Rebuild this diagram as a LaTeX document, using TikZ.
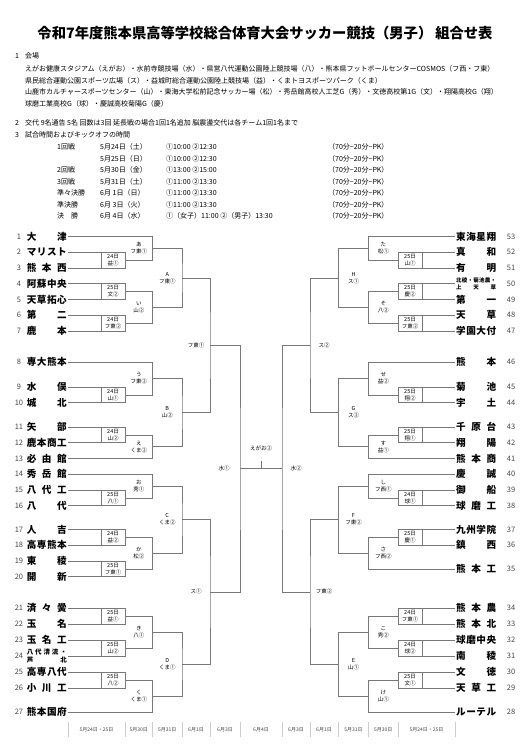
\documentclass[tikz,border=0pt]{standalone}
\usepackage{fontspec}
\setmainfont{Noto Sans CJK JP}
\usepackage{xcolor}
\definecolor{linegray}{RGB}{120,120,120}
\definecolor{sepgray}{RGB}{205,205,205}
\definecolor{numgray}{RGB}{70,70,70}

% spread the characters of a team name over a fixed width
\makeatletter
\newcommand\spreadchars[1]{\spread@i#1\@nil}
\def\spread@i#1#2\@nil{#1\ifx\relax#2\relax\else\hfil\spread@i#2\@nil\fi}
\makeatother
\newcommand\tname[1]{\makebox[40pt][s]{\expandafter\spreadchars\expandafter{#1}}}

\begin{document}
\begin{tikzpicture}[x=1pt,y=-1pt,
    ln/.style={draw=linegray, line width=0.6pt},
    lname/.style={anchor=east, inner sep=1pt, font=\bfseries\fontsize{9.6}{10}\selectfont},
    rname/.style={anchor=west, inner sep=1pt, font=\bfseries\fontsize{9.6}{10}\selectfont},
    num/.style={inner sep=0pt, text=numgray, font=\fontsize{7.5}{8}\selectfont},
    fbox/.style={minimum width=24pt, inner sep=0pt, align=center, font=\fontsize{5.5}{7}\selectfont},
    lbl/.style={inner sep=0pt, align=center, font=\fontsize{5.5}{7}\selectfont},
    txt/.style={anchor=west, inner sep=0pt, font=\fontsize{7}{8}\selectfont},
    day/.style={inner sep=0pt, text=numgray, font=\fontsize{5}{6}\selectfont}]
\useasboundingbox (0,0) rectangle (530,752);

% Title and notes
\node[font=\bfseries\fontsize{14.3}{15}\selectfont] (title) at (265,33) {令和7年度熊本県高等学校総合体育大会サッカー競技（男子）\hspace{3pt}組合せ表};
\node[txt] (n1) at (15,56) {1};
\node[txt] (venue) at (25,56) {会場};
\node[txt] (v1) at (25,69.3) {えがお健康スタジアム（えがお）・水前寺競技場（水）・県営八代運動公園陸上競技場（八）・熊本県フットボールセンターCOSMOS（フ西・フ東）};
\node[txt] (v2) at (25,80.7) {県民総合運動公園スポーツ広場（ス）・益城町総合運動公園陸上競技場（益）・くまトヨスポーツパーク（くま）};
\node[txt] (v3) at (25,92) {山鹿市カルチャースポーツセンター（山）・東海大学松前記念サッカー場（松）・秀岳館高校人工芝G（秀）・文徳高校第1G（文）・翔陽高校G（翔）};
\node[txt] (v4) at (25,103.5) {球磨工業高校G（球）・慶誠高校菊陽G（慶）};
\node[txt] (n2) at (15,123.3) {2};
\node[txt] (subs) at (25,123.3) {交代 9名通告 5名 回数は3回 延長戦の場合1回1名追加 脳震盪交代は各チーム1回1名まで};
\node[txt] (n3) at (15,135) {3};
\node[txt] (times) at (25,135) {試合時間およびキックオフの時間};

% Schedule
\foreach \sy/\rd/\dt/\tm in {147/1回戦/5月24日（土）/①10:00 ②12:30,
    158.5//5月25日（日）/①10:00 ②12:30,
    170/2回戦/5月30日（金）/①13:00 ②15:00,
    181.5/3回戦/5月31日（土）/①11:00 ②13:30,
    193/準々決勝/6月 1日（日）/①11:00 ②13:30,
    204.5/準決勝/6月 3日（火）/①11:00 ②13:30,
    216/決　勝/6月 4日（水）/①（女子）11:00 ②（男子）13:30}{
  \node[txt] at (57,\sy) {\rd};
  \node[txt] at (100,\sy) {\dt};
  \node[txt] at (166,\sy) {\tm};
  \node[txt] at (328,\sy) {（70分−20分−PK）};
}

% Teams, left half
\foreach \n/\y/\tn in {1/236.5/大津, 2/252.25/マリスト, 3/268/熊本西, 4/283.75/阿蘇中央,
    5/299.5/天草拓心, 6/315.25/第二, 7/331/鹿本, 8/362/専大熊本, 9/387/水俣,
    10/402.75/城北, 11/427/矢部, 12/442.75/鹿本商工, 13/458.5/必由館, 14/474.25/秀岳館,
    15/490/八代工, 16/505.75/八代, 17/529.5/人吉, 18/545.25/高専熊本, 19/561/東稜,
    20/576.75/開新, 21/608/済々黌, 22/624/玉名, 23/640/玉名工, 25/672/高専八代,
    26/688/小川工, 27/712/熊本国府}{
  \node[num] at (19,\y) {\n};
  \node[lname] (t\n) at (68,\y) {\tname{\tn}};
}
\node[num] at (19,656) {24};
\node[lname, align=center, font=\bfseries\fontsize{6.5}{8}\selectfont] (t24) at (68,656) {\tname{八代清流・}\\\tname{芦北}};

% Teams, right half
\foreach \n/\y/\tn in {53/236.5/東海星翔, 52/252.25/真和, 51/268/有明, 49/299.5/第一,
    48/315.25/天草, 47/331/学園大付, 46/362/熊本, 45/387/菊池, 44/402.75/宇土,
    43/427/千原台, 42/442.75/翔陽, 41/458.5/熊本商, 40/474.25/慶誠, 39/490/御船,
    38/505.75/球磨工, 37/529.5/九州学院, 36/545.25/鎮西, 35/569/熊本工, 34/608/熊本農,
    33/624/熊本北, 32/640/球磨中央, 31/656/南稜, 30/672/文徳, 29/688/天草工, 28/712/ルーテル}{
  \node[num] at (511,\y) {\n};
  \node[rname] (t\n) at (455,\y) {\tname{\tn}};
}
\node[num] at (511,283.75) {50};
\node[rname, align=center, font=\bfseries\fontsize{5.5}{7}\selectfont] (t50) at (455,283.75) {\tname{北稜・菊池農・}\\\tname{上天草}};

% First round boxes
\foreach \mb/\my/\md/\mv in {2/260.1/24/益①, 4/291.6/25/文②, 6/323.1/24/フ東②, 9/394.9/24/山①,
    11/434.9/24/山②, 15/497.9/25/八①, 17/537.4/24/益②, 19/568.9/25/フ東①,
    21/616/25/益①, 23/648/25/山②, 25/680/25/八②}{
  \node[fbox] (b\mb) at (113,\my) {{\md}日\\{\mv}};
}
\foreach \mb/\my/\md/\mv in {52/260.1/25/山①, 50/291.6/25/慶②, 48/323.1/25/フ東②, 45/394.9/25/翔②,
    43/434.9/25/翔①, 39/497.9/24/球①, 37/537.4/25/慶①, 34/616/24/フ東①,
    32/648/24/球②, 30/680/25/文①}{
  \node[fbox] (b\mb) at (410,\my) {{\md}日\\{\mv}};
}
\foreach \a/\b in {2/3,4/5,6/7,9/10,11/12,15/16,17/18,19/20,21/22,23/24,25/26}{
  \draw[ln] (t\a.east) -| (b\a.east) |- (t\b.east);
  \draw[ln] (t\a.east -| b\a.west) -- (t\b.east -| b\a.west);
}
\foreach \a/\b in {52/51,50/49,48/47,45/44,43/42,39/38,37/36,34/33,32/31,30/29}{
  \draw[ln] (t\a.west) -| (b\a.west) |- (t\b.west);
  \draw[ln] (t\a.west -| b\a.east) -- (t\b.west -| b\a.east);
}

% Second round
\foreach \m/\my/\k/\mv in {a/248.3/あ/フ東①, i/307.4/い/山②, u/378.4/う/フ東②, e/446.7/え/くま②,
    o/486.1/お/秀①, ka/553.1/か/松②, ki/632/き/八①, ku/696/く/くま①}{
  \coordinate (m\m) at (152.5,\my);
  \node[lbl] at (138.75,\my) {{\k}\\{\mv}};
}
\foreach \m/\my/\k/\mv in {ta/248.3/た/松①, so/307.4/そ/八②, se/378.4/せ/益②, su/446.7/す/益①,
    shi/486.1/し/フ西①, sa/553.2/さ/フ西②, ko/632/こ/秀②, ke/696/け/山①}{
  \coordinate (m\m) at (368.5,\my);
  \node[lbl] at (383.25,\my) {{\k}\\{\mv}};
}
\draw[ln] (t1.east) -| (ma) |- (b2.east);
\draw[ln] (b4.east) -| (mi) |- (b6.east);
\draw[ln] (t8.east) -| (mu) |- (b9.east);
\draw[ln] (b11.east) -| (me) |- (t13.east);
\draw[ln] (t14.east) -| (mo) |- (b15.east);
\draw[ln] (b17.east) -| (mka) |- (b19.east);
\draw[ln] (b21.east) -| (mki) |- (b23.east);
\draw[ln] (b25.east) -| (mku) |- (t27.east);
\draw[ln] (t53.west) -| (mta) |- (b52.west);
\draw[ln] (b50.west) -| (mso) |- (b48.west);
\draw[ln] (t46.west) -| (mse) |- (b45.west);
\draw[ln] (b43.west) -| (msu) |- (t41.west);
\draw[ln] (t40.west) -| (mshi) |- (b39.west);
\draw[ln] (b37.west) -| (msa) |- (t35.west);
\draw[ln] (b34.west) -| (mko) |- (b32.west);
\draw[ln] (b30.west) -| (mke) |- (t28.west);

% Third round
\foreach \m/\my/\k/\mv in {A/277.9/A/フ東①, B/412.5/B/山②, C/519.6/C/くま②, D/664/D/くま①}{
  \coordinate (m\m) at (182,\my);
  \node[lbl] at (167.25,\my) {{\k}\\{\mv}};
}
\foreach \m/\my/\k/\mv in {H/277.9/H/ス①, G/412.5/G/ス②, F/519.6/F/フ東②, E/664/E/山①}{
  \coordinate (m\m) at (338.5,\my);
  \node[lbl] at (353.5,\my) {{\k}\\{\mv}};
}
\draw[ln] (ma) -| (mA) |- (mi);
\draw[ln] (mu) -| (mB) |- (me);
\draw[ln] (mo) -| (mC) |- (mka);
\draw[ln] (mki) -| (mD) |- (mku);
\draw[ln] (mta) -| (mH) |- (mso);
\draw[ln] (mse) -| (mG) |- (msu);
\draw[ln] (mshi) -| (mF) |- (msa);
\draw[ln] (mko) -| (mE) |- (mke);

% Quarter finals, semi finals, final
\coordinate (mAB) at (210,345.2);
\coordinate (mCD) at (210,591.8);
\coordinate (mHG) at (310,345.2);
\coordinate (mFE) at (310,591.8);
\coordinate (mL) at (240,468.5);
\coordinate (mR) at (282,468.5);
\coordinate (ftop) at (261,461);
\draw[ln] (mA) -| (mAB) |- (mB);
\draw[ln] (mC) -| (mCD) |- (mD);
\draw[ln] (mH) -| (mHG) |- (mG);
\draw[ln] (mF) -| (mFE) |- (mE);
\draw[ln] (mAB) -| (mL) |- (mCD);
\draw[ln] (mHG) -| (mR) |- (mFE);
\draw[ln] (mL) -- (mR);
\draw[ln] (ftop) -- (ftop |- mL);
\node[lbl] at (196,345.2) {フ東①};
\node[lbl] at (196,591.8) {ス①};
\node[lbl] at (324,345.2) {ス②};
\node[lbl] at (324,591.8) {フ東②};
\node[lbl] at (224,468.5) {水①};
\node[lbl] at (296,468.5) {水②};
\node[lbl] (fin) at (261,448) {えがお②};

% Dates under the rounds
\foreach \x in {68,125,152.5,182,210,240,282,310,338.5,368.5,398,455}
  \draw[sepgray, line width=0.5pt] (\x,722) -- (\x,737);
\foreach \x/\dd in {96.5/5月24日・25日, 138.75/5月30日, 167.25/5月31日, 196/6月1日, 225/6月3日,
    261/6月4日, 296/6月3日, 324/6月1日, 353.5/5月31日, 383.25/5月30日, 426.5/5月24日・25日}
  \node[day] at (\x,729.5) {\dd};
\end{tikzpicture}
\end{document}
